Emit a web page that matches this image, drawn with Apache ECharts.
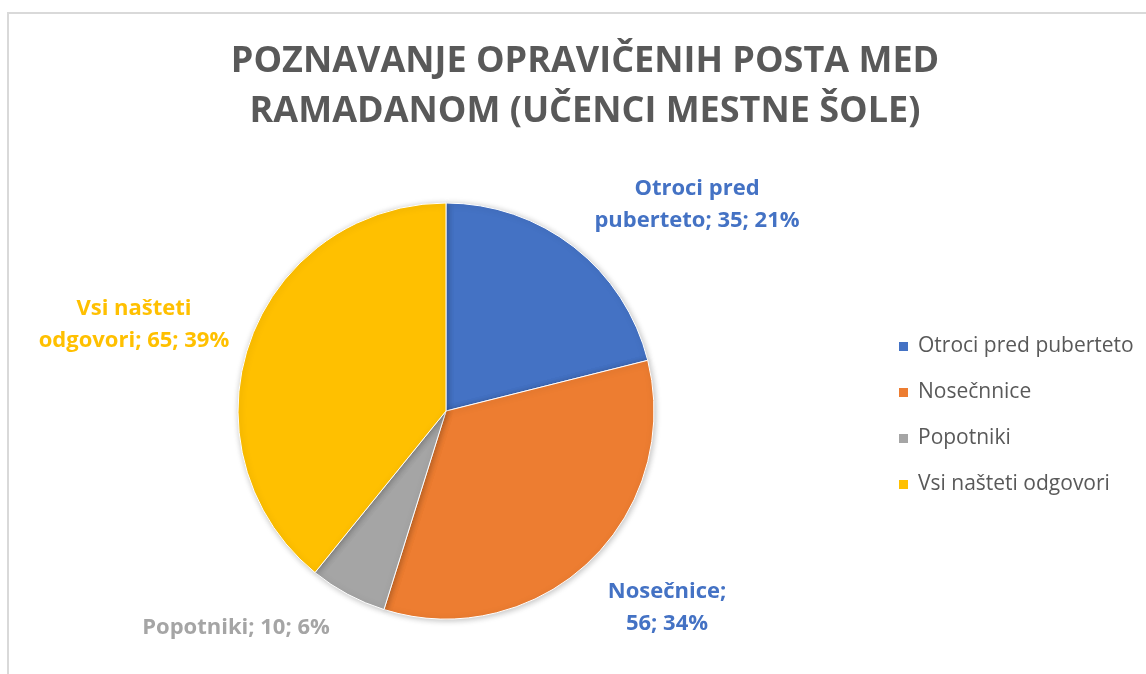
<!DOCTYPE html>
<html>
<head>
<meta charset="utf-8">
<script src="https://cdn.jsdelivr.net/npm/echarts@6/dist/echarts.min.js"></script>
<style>
  html, body { margin: 0; padding: 0; background: #fff; }
  #chart { width: 1146px; height: 674px; }
</style>
</head>
<body>
<div id="chart"></div>
<script>
const categories = ['Otroci pred puberteto', 'Nosečnice', 'Popotniki', 'Vsi našteti odgovori']
const legendLabels = ['Otroci pred puberteto', 'Nosečnnice', 'Popotniki', 'Vsi našteti odgovori']
const values = [35, 56, 10, 65]
const percents = [21, 34, 6, 39]

const sliceColors = ['#4472C4', '#ED7D31', '#A5A5A5', '#FFC000']
const labelColors = ['#4472C4', '#4472C4', '#A5A5A5', '#FFC000']
// label text with the line breaks used in the picture
const labelText = [
  'Otroci pred\npuberteto; ' + values[0] + '; ' + percents[0] + '%',
  'Nosečnice;\n' + values[1] + '; ' + percents[1] + '%',
  'Popotniki; ' + values[2] + '; ' + percents[2] + '%',
  'Vsi našteti\nodgovori; ' + values[3] + '; ' + percents[3] + '%'
]
// centre of each label
const labelPos = [[697, 205], [667, 608], [236, 628], [134, 325]]

const chart = echarts.init(document.getElementById('chart'))

chart.setOption({
  animation: false,
  title: {
    text: 'POZNAVANJE OPRAVIČENIH POSTA MED\nRAMADANOM (UČENCI MESTNE ŠOLE)',
    left: 580,
    top: 32,
    textAlign: 'center',
    textStyle: {
      fontFamily: 'Open Sans',
      fontWeight: 'bold',
      fontSize: 36,
      lineHeight: 50,
      color: '#595959'
    }
  },
  graphic: [{
    type: 'rect',
    shape: { x: 8, y: 13, width: 1200, height: 700 },
    style: { fill: 'none', stroke: '#D9D9D9', lineWidth: 2 },
    silent: true
  }],
  legend: {
    orient: 'vertical',
    left: 897,
    top: 336,
    padding: 0,
    itemWidth: 11,
    itemHeight: 11,
    itemGap: 25,
    icon: 'rect',
    data: categories,
    formatter: function (name) {
      return legendLabels[categories.indexOf(name)]
    },
    textStyle: {
      fontFamily: 'Open Sans',
      fontSize: 21,
      lineHeight: 20,
      color: '#595959',
      padding: [0, 0, 0, 4]
    }
  },
  series: [{
    type: 'pie',
    center: [446, 411],
    radius: 208,
    startAngle: 90,
    clockwise: true,
    itemStyle: {
      borderColor: '#fff',
      borderWidth: 1,
      shadowColor: 'rgba(0,0,0,0.25)',
      shadowBlur: 6,
      shadowOffsetX: 1,
      shadowOffsetY: 1
    },
    label: {
      show: true,
      position: 'outside',
      fontFamily: 'Open Sans',
      fontWeight: 'bold',
      fontSize: 22,
      lineHeight: 32,
      align: 'center',
      formatter: function (p) {
        return labelText[p.dataIndex]
      }
    },
    labelLine: { show: false },
    labelLayout: function (params) {
      const pos = labelPos[params.dataIndex]
      return {
        x: pos[0],
        y: pos[1],
        align: 'center',
        verticalAlign: 'middle'
      }
    },
    data: categories.map(function (name, i) {
      return {
        name: name,
        value: values[i],
        itemStyle: { color: sliceColors[i] },
        label: { color: labelColors[i] }
      }
    })
  }]
})
</script>
</body>
</html>
